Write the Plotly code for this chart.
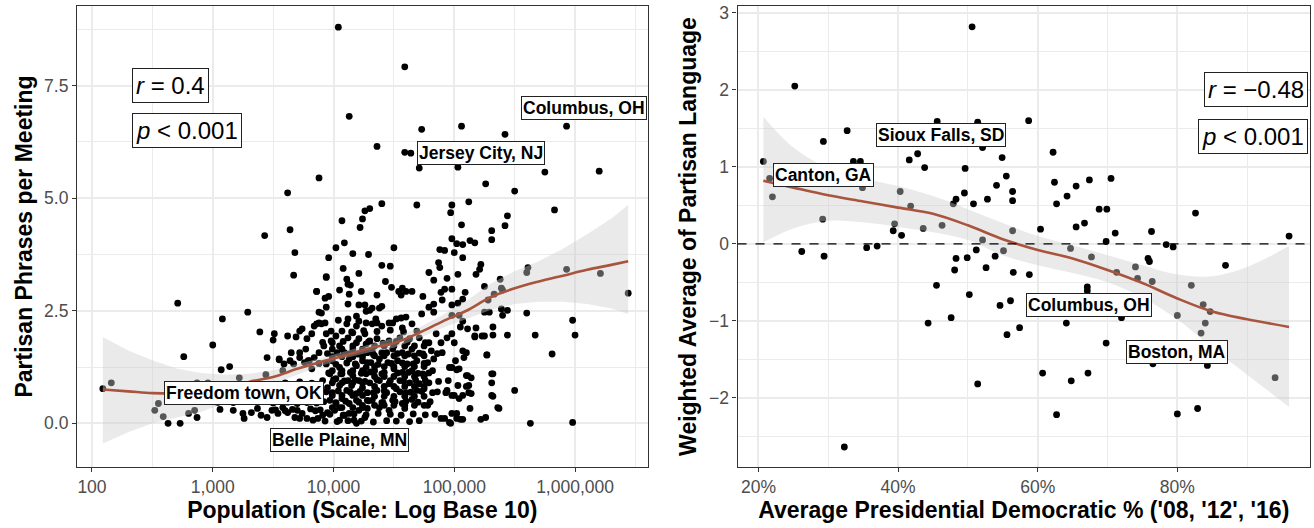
import plotly.graph_objects as go

# ---------------- Left panel data: log10(population), partisan phrases per meeting
pop_log10 = [
 4.04,4.59,4.13,4.73,5.06,5.42,5.93,4.36,4.59,4.64,4.71,5.03,5.75,6.20,5.26,5.50,5.83,4.40,4.69,4.98,
 4.97,5.12,5.44,5.42,5.31,5.31,5.06,4.30,4.26,4.24,4.22,4.07,4.09,4.02,4.16,4.29,4.50,4.98,5.02,5.07,
 5.13,5.17,4.88,4.92,5.00,3.88,3.62,3.64,3.43,3.68,3.96,3.67,4.08,4.21,3.94,4.11,4.12,4.14,4.05,3.86,
 4.23,4.13,3.96,4.12,4.21,4.26,3.94,3.88,4.27,3.29,3.08,4.04,4.12,4.19,4.21,3.90,3.86,
 5.07,4.87,4.88,4.40,4.47,5.22,5.21,5.18,5.61,5.60,4.79,5.03,4.43,4.83,4.94,5.38,4.48,5.25,4.98,4.92,
 4.89,4.57,4.54,4.60,4.65,4.56,4.36,5.09,5.07,4.74,4.90,5.03,4.98,4.83,4.79,5.28,5.33,5.40,5.39,5.39,
 5.44,5.40,5.60,5.25,5.29,4.40,4.38,4.32,4.30,4.73,4.83,4.35,4.36,4.46,4.52,4.56,4.60,4.98,5.04,5.07,
 5.93,6.21,6.44,
 5.44,5.67,5.81,5.98,6.00,5.50,5.63,5.98,5.32,5.23,5.17,5.11,5.05,5.07,5.27,5.31,5.31,4.98,5.04,5.11,
 5.14,5.10,5.14,5.07,5.13,5.31,5.37,4.94,5.00,4.92,4.97,5.02,5.02,5.07,5.22,5.26,
 2.09,2.16,2.52,2.55,2.59,2.63,2.73,2.71,2.76,3.00,3.07,3.14,3.22,3.44,3.39,3.51,3.50,3.45,3.55,3.59,
 3.74,3.88,3.90,3.86,3.94,3.93,2.80,2.85,2.87,2.87,2.96,3.04,3.06,3.17,3.25,3.58,3.64,3.72,3.79,
 3.62,3.69,3.72,3.78,3.82,3.84,3.94,3.98,4.02,4.07,4.12,4.16,4.21,4.26,4.19,4.27,4.11,3.93,
 3.65,3.72,3.77,3.84,3.88,3.92,3.99,4.05,4.16,4.27,4.09,4.20,4.28,
 3.55,3.67,3.76,3.80,3.82,3.94,3.99,4.05,4.13,4.19,4.24,4.27,
 3.97,4.02,4.07,4.12,4.16,4.21,4.27,3.95,3.99,4.05,4.11,4.15,4.19,4.24,4.28,3.97,4.02,4.07,4.13,4.19,
 4.24,4.28,
 3.06,3.17,3.25,3.26,3.32,3.37,3.40,3.45,3.49,3.54,3.58,3.62,3.68,3.72,3.74,3.78,3.83,3.87,3.91,3.95,
 4.01,4.05,4.09,4.13,4.17,4.21,4.26,4.28,4.19,4.05,
 4.32,4.40,4.49,4.57,4.65,4.85,4.94,4.89,4.98,5.00,5.18,5.17,5.25,5.32,5.10,5.27,4.90,5.08,
 4.30,4.36,4.46,4.55,4.63,4.71,4.79,
 4.32,4.40,4.49,4.57,4.65,4.74,4.81,
 4.31,4.38,4.45,4.53,4.61,4.69,4.78,4.83,
 4.34,4.42,4.50,4.57,4.65,4.74,4.82,
 4.30,4.38,4.46,4.55,4.63,4.71,4.79,
 4.36,4.44,4.52,4.60,4.69,4.75,4.82,
 4.32,4.40,4.49,4.57,4.65,4.78,
 4.38,4.59,4.46,
 4.96,4.95,5.03,5.12,5.10,5.01,5.02,4.93,4.98,5.04,5.12,5.32,5.32,5.36,4.89,4.96,4.98,5.05,
 4.34,4.42,4.50,4.59,4.67,4.75,4.34,4.42,4.50,4.59,4.67,4.75,4.34,4.42,4.50,4.59,4.67,4.75,
 4.34,4.42,4.50,4.59,4.67,4.75,4.34,4.42,4.50,4.59,4.67,4.75,4.34,4.42,4.50,4.59,4.67,4.75,
 4.34,4.42,4.50,4.59,4.67,4.75,
 3.99,4.07,4.16,4.24,3.99,4.07,4.16,4.24,3.99,4.07,4.16,4.24,3.99,4.07,4.16,4.24,3.99,4.07,4.16,4.24,
 3.99,4.07,4.16,4.24,
 3.93,4.03,4.12,4.23,4.33,4.44,4.52,4.63,4.71,
 3.97,4.08,4.17,4.27,4.37,4.47,4.56,4.66,4.76,4.84,
 3.92,4.02,4.10,4.21,4.29,4.41,4.51,4.60,4.70,4.80,
 3.94,4.04,4.14,4.22,4.33,4.42,4.55,4.64,4.73,4.86,
 3.91,4.00,4.09,4.18,4.26,4.36,4.47,4.58,4.68,4.76,4.87,
 3.96,4.06,4.14,4.23,4.31,4.40,4.53,4.62,4.70,4.79,
 3.88,4.02,4.11,4.18,4.28,4.37,4.48,4.57,4.66,4.75,
 3.95,4.03,4.13,4.23,4.33,4.44,4.53,4.62,4.71,4.86,
 3.91,4.08,4.19,4.29,4.41,4.52,4.61,4.76,
 3.98,4.15,4.25,4.36,4.47,4.58,4.69,
 3.52,3.60,3.66,3.70,3.81,3.85,3.89,
 3.50,3.62,3.70,3.78,3.86,
 3.55,3.66,3.75,3.84,
 3.60,3.72,3.82,
]
phrases = [
 8.80,7.92,6.82,6.53,6.60,6.42,6.60,6.15,6.02,6.00,5.67,5.69,5.58,5.60,5.32,5.16,4.74,4.88,4.85,4.85,
 4.68,4.92,4.61,4.39,4.28,4.08,4.41,4.77,4.72,4.54,4.35,4.50,4.01,3.90,3.77,3.75,3.90,4.10,3.99,3.97,
 4.06,4.01,3.86,3.84,3.79,5.45,5.12,4.30,4.17,3.79,3.68,3.29,3.44,3.33,3.24,3.20,3.09,3.07,2.96,2.93,
 2.93,2.87,2.82,2.65,2.63,2.63,2.58,2.47,2.49,2.47,2.32,2.29,2.32,2.38,2.27,2.21,2.21,
 3.68,3.57,3.46,3.51,3.49,3.53,3.42,3.31,3.46,3.35,3.35,3.31,3.15,3.18,3.22,3.20,3.02,3.04,2.98,2.98,
 2.91,3.00,2.93,2.93,2.93,2.85,2.85,2.91,2.76,2.82,2.74,2.67,2.63,2.65,2.58,2.74,2.87,2.96,3.00,2.54,
 2.51,2.40,2.45,2.47,2.47,2.60,2.56,2.56,2.51,2.43,2.47,2.32,2.23,2.23,2.32,2.34,2.36,2.40,2.40,2.27,
 3.42,3.33,2.89,
 1.96,1.96,1.54,2.29,1.96,0.73,0.00,0.02,1.96,1.94,1.92,2.10,2.14,1.61,1.52,1.10,0.90,1.24,1.21,1.06,
 1.01,0.82,0.66,0.62,0.33,0.62,0.33,0.73,0.62,0.11,0.00,0.22,0.11,0.09,0.09,0.13,
 0.77,0.90,0.29,0.44,0.15,0.00,0.00,2.67,1.48,1.74,1.19,1.26,1.01,1.08,2.03,1.99,1.85,1.46,1.41,1.32,
 2.10,2.23,2.45,2.93,3.26,2.78,0.22,0.29,0.13,0.90,0.90,0.46,0.57,0.46,0.51,1.17,1.39,1.46,1.39,
 1.94,1.92,2.05,1.88,1.99,2.16,1.99,1.83,1.94,2.05,1.90,2.01,1.88,1.99,2.16,2.23,2.21,2.23,
 1.57,1.57,1.65,1.46,1.57,1.72,1.79,1.72,1.72,1.76,1.57,1.54,1.57,
 1.43,1.32,1.35,1.39,1.21,1.32,1.39,1.24,1.43,1.28,1.39,1.24,
 1.10,0.99,1.10,0.95,1.06,0.95,1.10,0.79,0.68,0.84,0.73,0.84,0.66,0.79,0.68,0.51,0.44,0.55,0.44,0.51,
 0.40,0.51,
 0.31,0.29,0.22,0.11,0.24,0.33,0.18,0.13,0.29,0.22,0.35,0.24,0.13,0.11,0.22,0.11,0.07,0.11,0.18,0.24,
 0.29,0.35,0.18,0.22,0.07,0.29,0.13,0.33,0.00,0.07,
 2.21,2.16,2.23,2.12,2.21,1.99,1.90,1.79,1.99,1.79,2.12,1.94,1.94,2.14,1.57,1.52,1.57,1.46,
 1.83,1.88,1.83,1.90,1.88,1.90,1.79,
 1.61,1.57,1.65,1.57,1.65,1.54,1.61,
 1.35,1.43,1.35,1.39,1.32,1.39,1.35,1.43,
 1.17,1.13,1.21,1.13,1.17,1.10,1.17,
 0.90,0.95,0.88,0.95,0.90,0.88,0.90,
 0.73,0.68,0.77,0.68,0.73,0.77,0.68,
 0.51,0.46,0.51,0.44,0.53,0.40,
 0.35,0.33,0.29,
 1.24,0.95,0.84,0.84,1.06,1.39,1.19,0.68,0.62,0.55,0.68,1.10,0.60,0.35,0.11,0.02,0.22,0.09,
 1.72,1.72,1.72,1.72,1.72,1.72,1.50,1.50,1.50,1.50,1.50,1.50,1.26,1.26,1.26,1.26,1.26,1.26,
 1.04,1.04,1.04,1.04,1.04,1.04,0.82,0.82,0.82,0.82,0.82,0.82,0.60,0.60,0.60,0.60,0.60,0.60,
 0.40,0.40,0.40,0.40,0.40,0.40,
 1.65,1.65,1.65,1.65,1.48,1.48,1.48,1.48,1.17,1.17,1.17,1.17,0.90,0.90,0.90,0.90,0.62,0.62,0.62,0.62,
 0.35,0.35,0.35,0.35,
 0.05,0.04,0.06,0.05,0.03,0.06,0.05,0.04,0.06,
 0.20,0.18,0.21,0.19,0.22,0.20,0.18,0.21,0.19,0.20,
 0.48,0.46,0.49,0.47,0.50,0.46,0.48,0.49,0.47,0.48,
 0.70,0.72,0.69,0.71,0.68,0.72,0.70,0.69,0.71,0.70,
 0.95,0.97,0.94,0.96,0.93,0.97,0.95,0.94,0.96,0.95,0.93,
 1.12,1.10,1.13,1.11,1.14,1.10,1.12,1.13,1.11,1.12,
 1.33,1.31,1.34,1.32,1.35,1.31,1.33,1.34,1.32,1.33,
 1.55,1.57,1.54,1.56,1.53,1.57,1.55,1.54,1.56,1.55,
 1.80,1.82,1.79,1.81,1.78,1.82,1.80,1.79,
 2.05,2.03,2.06,2.04,2.07,2.03,2.05,
 0.30,0.28,0.31,0.29,0.32,0.28,0.30,
 0.45,0.47,0.44,0.46,0.45,
 0.70,0.72,0.69,0.71,
 0.90,0.92,0.89,
]

# LOESS fit and confidence band (left)
smooth_log10 = [2.09,2.3,2.5,2.7,2.9,3.1,3.3,3.5,3.7,3.9,4.1,4.3,4.5,4.7,4.9,5.1,5.3,5.5,5.7,5.9,6.1,6.3,6.44]
smooth_fit   = [0.75,0.71,0.67,0.66,0.68,0.75,0.92,1.03,1.21,1.37,1.51,1.67,1.78,2.00,2.26,2.50,2.80,3.00,3.15,3.28,3.41,3.52,3.60]
smooth_hi    = [1.92,1.62,1.40,1.22,1.12,1.08,1.10,1.18,1.32,1.45,1.60,1.75,1.90,2.12,2.40,2.72,3.10,3.38,3.60,3.88,4.20,4.55,4.85]
smooth_lo    = [-0.45,-0.20,0.00,0.12,0.25,0.45,0.70,0.88,1.08,1.28,1.45,1.58,1.68,1.88,2.12,2.32,2.52,2.65,2.70,2.70,2.65,2.55,2.43]

left_labels = ["Columbus, OH", "Jersey City, NJ", "Freedom town, OK", "Belle Plaine, MN"]
left_label_x = [6.07, 5.22, 3.26, 4.05]
left_label_y = [7.0, 6.0, 0.68, -0.37]

pop_ticks = [100, 1000, 10000, 100000, 1000000]
pop_tick_text = ["100", "1,000", "10,000", "100,000", "1,000,000"]

# ---------------- Right panel data: democratic vote %, weighted average partisan language
dem_pct = [
 20.7,21.6,22.0,25.2,29.3,32.7,29.2,26.2,29.4,33.6,34.6,34.9,35.5,37.0,40.3,41.8,39.5,39.3,40.5,43.6,
 46.3,41.6,42.8,43.8,45.6,49.6,49.5,48.3,47.9,50.8,50.6,51.4,48.3,49.9,51.2,58.7,62.2,52.1,54.9,55.5,
 54.1,52.8,56.4,56.4,62.4,64.2,62.7,65.5,67.4,70.5,68.8,69.9,65.5,66.7,60.4,56.4,52.1,71.1,69.8,76.3,
 78.4,79.4,82.6,96.0,55.1,53.9,64.7,67.7,75.8,48.1,45.5,50.2,44.3,47.6,51.4,32.3,52.6,56.5,58.8,54.6,
 56.1,55.6,57.4,67.1,67.1,64.1,69.8,60.7,64.8,67.2,62.7,72.0,71.3,74.0,74.3,76.4,76.0,86.9,82.0,80.0,
 83.7,84.7,84.0,83.4,76.5,84.3,80.0,82.9,94.0,
]
partisan_avg = [
 1.07,0.85,0.61,2.05,1.33,1.47,0.32,-0.10,-0.16,1.07,1.07,0.73,-0.05,-0.03,0.68,0.49,0.26,0.17,0.11,0.20,
 0.24,1.09,1.17,0.99,1.59,0.98,0.66,0.58,0.52,0.52,2.82,1.58,-0.19,-0.18,-0.08,1.60,1.19,1.25,1.12,0.88,
 0.76,0.58,0.68,0.56,0.80,0.62,0.52,0.75,0.83,0.85,0.45,0.45,0.22,0.27,0.19,0.17,0.05,0.14,0.03,0.16,
 -0.01,-0.04,0.40,0.10,-0.09,-0.16,-0.06,-0.17,-0.19,-0.34,-0.54,-0.66,-1.03,-0.96,-1.82,-2.64,-0.31,-0.37,-0.40,-0.80,
 -0.74,-1.18,-1.09,-0.56,-0.61,-1.03,-1.29,-1.68,-1.78,-1.68,-2.22,-0.96,-0.37,-0.30,-0.45,-0.49,-0.23,-0.28,-0.54,-0.93,
 -0.79,-0.88,-1.03,-1.16,-1.56,-1.58,-2.21,-2.14,-1.74,
]

smooth_dem   = [20.7,25,30,35,40,45,50,55,60,65,70,75,80,85,90,96]
smooth_fit_r = [0.82,0.73,0.63,0.55,0.47,0.39,0.24,0.06,-0.08,-0.19,-0.34,-0.51,-0.71,-0.88,-0.98,-1.08]
smooth_hi_r  = [1.65,1.25,0.98,0.85,0.75,0.62,0.45,0.27,0.10,-0.02,-0.15,-0.28,-0.40,-0.42,-0.30,-0.03]
smooth_lo_r  = [0.02,0.20,0.30,0.28,0.22,0.15,0.05,-0.15,-0.28,-0.38,-0.50,-0.70,-0.98,-1.35,-1.70,-2.12]

right_labels = ["Canton, GA", "Sioux Falls, SD", "Columbus, OH", "Boston, MA"]
right_label_x = [29.3, 46.1, 67.4, 80.0]
right_label_y = [0.89, 1.42, -0.79, -1.41]

stats_left = ["<i>r</i> = 0.4", "<i>p</i> &lt; 0.001"]
stats_right = ["<i>r</i> = \u22120.48", "<i>p</i> &lt; 0.001"]

# ---------------- styling
FONT = "Liberation Sans, Arial, sans-serif"
POINT = dict(color="black", size=6.8)
RIBBON = "rgba(205,205,205,0.42)"
LINE = "rgb(168,84,62)"
GRID = "#EBEBEB"

fig = go.Figure()

# Left: points, ribbon, line
fig.add_trace(go.Scatter(x=[10 ** v for v in pop_log10], y=phrases, mode="markers",
                         marker=POINT, xaxis="x", yaxis="y", hoverinfo="skip"))
fig.add_trace(go.Scatter(x=[10 ** v for v in smooth_log10], y=smooth_hi, mode="lines",
                         line=dict(width=0), xaxis="x", yaxis="y", hoverinfo="skip"))
fig.add_trace(go.Scatter(x=[10 ** v for v in smooth_log10], y=smooth_lo, mode="lines",
                         line=dict(width=0), fill="tonexty", fillcolor=RIBBON,
                         xaxis="x", yaxis="y", hoverinfo="skip"))
fig.add_trace(go.Scatter(x=[10 ** v for v in smooth_log10], y=smooth_fit, mode="lines",
                         line=dict(color=LINE, width=2.6, shape="spline"), xaxis="x", yaxis="y"))

# Right: points, ribbon, line
fig.add_trace(go.Scatter(x=dem_pct, y=partisan_avg, mode="markers", marker=POINT,
                         xaxis="x2", yaxis="y2", hoverinfo="skip"))
fig.add_trace(go.Scatter(x=smooth_dem, y=smooth_hi_r, mode="lines", line=dict(width=0, shape="spline"),
                         xaxis="x2", yaxis="y2", hoverinfo="skip"))
fig.add_trace(go.Scatter(x=smooth_dem, y=smooth_lo_r, mode="lines", line=dict(width=0, shape="spline"),
                         fill="tonexty", fillcolor=RIBBON, xaxis="x2", yaxis="y2", hoverinfo="skip"))
fig.add_trace(go.Scatter(x=smooth_dem, y=smooth_fit_r, mode="lines",
                         line=dict(color=LINE, width=2.6, shape="spline"), xaxis="x2", yaxis="y2"))

# dashed zero line on right
fig.add_shape(type="line", xref="x2 domain", yref="y2", x0=0, x1=1, y0=0, y1=0,
              line=dict(color="black", width=1.2, dash="dash"), layer="above")

axis_common = dict(showline=True, linecolor="#333333", linewidth=1.2, mirror=True,
                   ticks="outside", ticklen=4, tickwidth=1.2, tickcolor="#333333",
                   gridcolor=GRID, gridwidth=1.5, zeroline=False,
                   tickfont=dict(family=FONT, size=17.5, color="#4D4D4D"))

title_font = dict(family=FONT, size=23, color="black")

fig.update_layout(
    width=1314, height=528,
    margin=dict(l=77, r=3, t=3, b=61),
    paper_bgcolor="white", plot_bgcolor="white",
    showlegend=False,
    xaxis=dict(axis_common, type="log", domain=[0, 0.4627],
               range=[1.876, 6.6], tickvals=pop_ticks, ticktext=pop_tick_text,
               minor=dict(tickvals=[10 ** 2.5, 10 ** 3.5, 10 ** 4.5, 10 ** 5.5, 10 ** 6.5],
                          showgrid=True, gridcolor=GRID, gridwidth=1.2, ticklen=0),
               title=dict(text="<b>Population (Scale: Log Base 10)</b>", font=title_font, standoff=4),
               anchor="y"),
    yaxis=dict(axis_common, range=[-0.97, 9.27], tickvals=[0, 2.5, 5, 7.5],
               ticktext=["0.0", "2.5", "5.0", "7.5"],
               minor=dict(tickvals=[-1.25, 1.25, 3.75, 6.25, 8.75], showgrid=True,
                          gridcolor=GRID, gridwidth=1.2, ticklen=0),
               title=dict(text="<b>Partisan Phrases per Meeting</b>", font=title_font, standoff=5),
               anchor="x"),
    xaxis2=dict(axis_common, domain=[0.5357, 1], range=[17.0, 99.0],
                tickvals=[20, 40, 60, 80], ticktext=["20%", "40%", "60%", "80%"],
                minor=dict(tickvals=[30, 50, 70, 90], showgrid=True, gridcolor=GRID,
                           gridwidth=1.2, ticklen=0),
                title=dict(text="<b>Average Presidential Democratic % ('08, '12', '16)</b>",
                           font=title_font, standoff=4),
                anchor="y2"),
    yaxis2=dict(axis_common, range=[-2.90, 3.09], tickvals=[-2, -1, 0, 1, 2, 3],
                minor=dict(tickvals=[-2.5, -1.5, -0.5, 0.5, 1.5, 2.5], showgrid=True,
                           gridcolor=GRID, gridwidth=1.2, ticklen=0),
                title=dict(text="<b>Weighted Average of Partisan Language</b>", font=title_font, standoff=5),
                anchor="x2"),
)

anns = []
label_font = dict(family=FONT, size=17.5, color="black")
for t, x, y in zip(left_labels, left_label_x, left_label_y):
    anns.append(dict(text=f"<b>{t}</b>", x=x, y=y, xref="x", yref="y", showarrow=False,
                     font=label_font, bgcolor="white", bordercolor="#222222", borderwidth=1,
                     borderpad=1))
for t, x, y in zip(right_labels, right_label_x, right_label_y):
    anns.append(dict(text=f"<b>{t}</b>", x=x, y=y, xref="x2", yref="y2", showarrow=False,
                     font=label_font, bgcolor="white", bordercolor="#222222", borderwidth=1,
                     borderpad=1))

stat_font = dict(family=FONT, size=24, color="black")
for t, y in zip(stats_left, [7.50, 6.51]):
    anns.append(dict(text=t, x=2.33, y=y, xref="x", yref="y", xanchor="left", showarrow=False,
                     font=stat_font, bgcolor="white", bordercolor="#222222", borderwidth=1, borderpad=3))
for t, y in zip(stats_right, [2.0, 1.40]):
    anns.append(dict(text=t, x=98.7, y=y, xref="x2", yref="y2", xanchor="right", showarrow=False,
                     font=stat_font, bgcolor="white", bordercolor="#222222", borderwidth=1, borderpad=3))

fig.update_layout(annotations=anns)

fig.write_html("out.html", config={"displayModeBar": False},
               post_script="document.body.style.margin='0';document.body.style.overflow='hidden';")
